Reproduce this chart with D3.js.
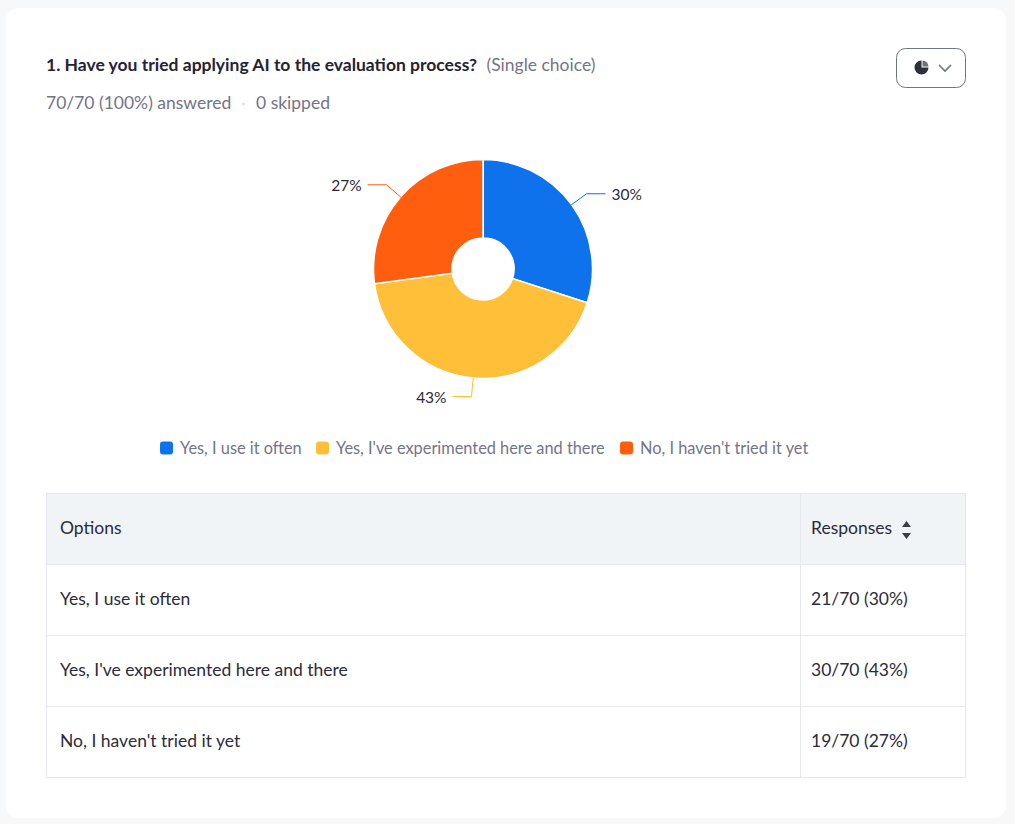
<!DOCTYPE html>
<html>
<head>
<meta charset="utf-8">
<script src="https://cdn.jsdelivr.net/npm/d3@7"></script>
<style>
html, body { margin: 0; padding: 0; background: #f7f8fa; overflow: hidden; }
text { font-family: Lato, sans-serif; }
</style>
</head>
<body>
<script>
var categories = ["Yes, I use it often", "Yes, I've experimented here and there", "No, I haven't tried it yet"];
var counts = [21, 30, 19];
var total = 70;
var percents = ["30%", "43%", "27%"];
var colors = ["#0e72ed", "#ffbf39", "#ff5e0e"];
var legendX = [160, 316, 620];

var svg = d3.select("body").append("svg")
    .attr("width", 1015)
    .attr("height", 824)
    .style("display", "block");

// card
svg.append("rect")
    .attr("x", 6).attr("y", 8)
    .attr("width", 1000).attr("height", 810)
    .attr("rx", 12)
    .attr("fill", "#fff");

// heading
svg.append("text")
    .attr("x", 46).attr("y", 70.5)
    .attr("font-size", 17.5)
    .attr("font-weight", 700)
    .attr("fill", "#232333")
    .text("1. Have you tried applying AI to the evaluation process?");
svg.append("text")
    .attr("x", 486.5).attr("y", 70.5)
    .attr("font-size", 17.5)
    .attr("fill", "#747487")
    .text("(Single choice)");
svg.append("text")
    .attr("x", 46).attr("y", 109)
    .attr("font-size", 17.5)
    .attr("fill", "#747487")
    .text("70/70 (100%) answered");
svg.append("circle")
    .attr("cx", 243.5).attr("cy", 104).attr("r", 1.5)
    .attr("fill", "#dfe3e8");
svg.append("text")
    .attr("x", 256).attr("y", 109)
    .attr("font-size", 17.5)
    .attr("fill", "#747487")
    .text("0 skipped");

// chart type button
var btn = svg.append("g").attr("transform", "translate(931,68)");
btn.append("rect")
    .attr("x", -34.5).attr("y", -19.5)
    .attr("width", 69).attr("height", 39)
    .attr("rx", 9)
    .attr("fill", "#fff")
    .attr("stroke", "#6e7680");
var iconArc = d3.arc().innerRadius(0);
btn.append("path")
    .attr("transform", "translate(-9.5,-0.5)")
    .attr("fill", "#2d3036")
    .attr("d", iconArc({outerRadius: 7, startAngle: Math.PI / 2, endAngle: 2 * Math.PI}));
btn.append("path")
    .attr("transform", "translate(-8.5,-1.5)")
    .attr("fill", "#6e7176")
    .attr("d", iconArc({outerRadius: 6, startAngle: 0, endAngle: Math.PI / 2}));
btn.append("path")
    .attr("d", "M8,-3 L14,3 L20,-3")
    .attr("fill", "none")
    .attr("stroke", "#6e7680")
    .attr("stroke-width", 1.6);

// pie
var cx = 483, cy = 269;
var pie = d3.pie().sort(null)(counts);
var arc = d3.arc().innerRadius(31).outerRadius(109.5);
var g = svg.append("g").attr("transform", "translate(" + cx + "," + cy + ")");

g.selectAll("path.slice")
    .data(pie)
    .enter().append("path")
    .attr("class", "slice")
    .attr("d", arc)
    .attr("fill", function(d, i) { return colors[i]; })
    .attr("stroke", "#fff")
    .attr("stroke-width", 1.5);

function polar(r, a) { return [r * Math.sin(a), -r * Math.cos(a)]; }
function midAngle(d) { return (d.startAngle + d.endAngle) / 2; }

g.selectAll("path.leader")
    .data(pie)
    .enter().append("path")
    .attr("class", "leader")
    .attr("fill", "none")
    .attr("stroke-width", 1)
    .attr("stroke", function(d, i) { return colors[i]; })
    .attr("d", function(d) {
        var a = midAngle(d);
        var p0 = polar(109, a), p1 = polar(128, a);
        var dir = Math.sin(a) > 0 ? 1 : -1;
        return d3.line()([p0, p1, [p1[0] + dir * 19, p1[1]]]);
    });

g.selectAll("text.pct")
    .data(pie)
    .enter().append("text")
    .attr("class", "pct")
    .attr("font-size", 15.5)
    .attr("fill", "#2b2b3a")
    .attr("dominant-baseline", "central")
    .attr("text-anchor", function(d) { return Math.sin(midAngle(d)) > 0 ? "start" : "end"; })
    .attr("x", function(d) {
        var a = midAngle(d), dir = Math.sin(a) > 0 ? 1 : -1;
        return polar(128, a)[0] + dir * 25;
    })
    .attr("y", function(d) { return polar(128, midAngle(d))[1] + 0.5; })
    .text(function(d, i) { return percents[i]; });

// legend
var legend = svg.selectAll("g.legend")
    .data(categories)
    .enter().append("g")
    .attr("class", "legend")
    .attr("transform", function(d, i) { return "translate(" + legendX[i] + ",448)"; });
legend.append("rect")
    .attr("x", 0).attr("y", -6.5)
    .attr("width", 13).attr("height", 13)
    .attr("rx", 3)
    .attr("fill", function(d, i) { return colors[i]; });
legend.append("text")
    .attr("x", 20).attr("y", 5.5)
    .attr("font-size", 16.35)
    .attr("fill", "#747487")
    .text(function(d) { return d; });

// table
var border = "#e6e8ee";
var rowsY = d3.scaleBand().domain(d3.range(4)).range([493.5, 777.5]);
var rowData = [{a: "Options", b: "Responses"}].concat(categories.map(function(c, i) {
    return {a: c, b: counts[i] + "/" + total + " (" + percents[i] + ")"};
}));

var row = svg.selectAll("g.row")
    .data(rowData)
    .enter().append("g")
    .attr("class", "row")
    .attr("transform", function(d, i) { return "translate(0," + rowsY(i) + ")"; });
row.append("rect")
    .attr("x", 46.5)
    .attr("width", 919)
    .attr("height", rowsY.bandwidth())
    .attr("fill", function(d, i) { return i == 0 ? "#f1f4f6" : "#fff"; })
    .attr("stroke", border);
row.append("line")
    .attr("x1", 800.5).attr("x2", 800.5)
    .attr("y1", 0).attr("y2", rowsY.bandwidth())
    .attr("stroke", border);
row.append("text")
    .attr("x", 60)
    .attr("y", rowsY.bandwidth() / 2 + 5)
    .attr("font-size", 17.5)
    .attr("fill", "#2b2b3a")
    .text(function(d) { return d.a; });
row.append("text")
    .attr("x", 811)
    .attr("y", rowsY.bandwidth() / 2 + 5)
    .attr("font-size", 17.5)
    .attr("fill", "#2b2b3a")
    .text(function(d) { return d.b; });

// sort arrows
svg.append("path")
    .attr("d", "M906.5,521 L911,527 L902,527 Z M906.5,539 L911,533 L902,533 Z")
    .attr("fill", "#3a3d45");
</script>
</body>
</html>
